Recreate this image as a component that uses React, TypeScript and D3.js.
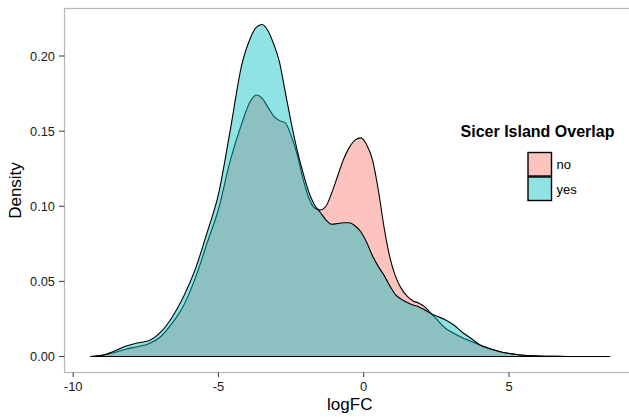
import React from "react";
import * as d3 from "d3";

// logFC grid shared by both density curves
const logFC = [
  -9.4, -9.0, -8.6, -8.2, -7.8, -7.4, -7.0, -6.6, -6.2, -5.8, -5.4, -5.0, -4.6,
  -4.2, -3.9, -3.7, -3.5, -3.3, -3.1, -2.9, -2.7, -2.5, -2.3, -2.1, -1.9, -1.7,
  -1.5, -1.3, -1.1, -0.9, -0.7, -0.5, -0.3, -0.1, 0.1, 0.3, 0.5, 0.7, 0.9, 1.1,
  1.3, 1.5, 1.7, 1.9, 2.1, 2.3, 2.5, 2.8, 3.1, 3.4, 3.7, 4.0, 4.4, 4.8, 5.2,
  5.6, 6.0, 6.5, 7.0, 7.5, 8.0, 8.47,
];

const densityNo = [
  0.0, 0.0008, 0.0025, 0.0048, 0.0065, 0.0085, 0.013, 0.022, 0.034, 0.052,
  0.075, 0.098, 0.13, 0.155, 0.17, 0.174, 0.172, 0.166, 0.16, 0.157, 0.1555,
  0.147, 0.135, 0.119, 0.106, 0.099, 0.0975, 0.1, 0.109, 0.12, 0.131, 0.139,
  0.144, 0.1455, 0.141, 0.131, 0.111, 0.086, 0.066, 0.053, 0.045, 0.04, 0.037,
  0.0355, 0.033, 0.029, 0.025, 0.019, 0.0155, 0.0125, 0.01, 0.0077, 0.0048,
  0.0027, 0.0015, 0.0007, 0.0003, 0.0001, 0.00005, 0.00002, 0.00001, 0.0,
];

const densityYes = [
  0.0, 0.0008, 0.0035, 0.0068, 0.009, 0.0105, 0.016, 0.026, 0.04, 0.058,
  0.082, 0.108, 0.15, 0.194, 0.212, 0.219, 0.221, 0.217, 0.208, 0.196, 0.176,
  0.156, 0.138, 0.123, 0.11, 0.101, 0.096, 0.091, 0.088, 0.0885, 0.089, 0.089,
  0.087, 0.083, 0.076, 0.067, 0.06, 0.054, 0.047, 0.041, 0.038, 0.036, 0.0343,
  0.033, 0.031, 0.0288, 0.027, 0.0245, 0.021, 0.016, 0.012, 0.0077, 0.0048,
  0.0027, 0.0015, 0.0007, 0.0003, 0.0001, 0.00005, 0.00002, 0.00001, 0.0,
];

const xTicks = [-10, -5, 0, 5];
const yTicks = [0, 0.05, 0.1, 0.15, 0.2];
const groups = ["no", "yes"];
const colors = ["#F8766D", "#00BFC4"];

const W = 629;
const H = 417;
const font = "Liberation Sans, Arial, Helvetica, sans-serif";

export default function App() {
  const x = d3.scaleLinear().domain([-10, 5]).range([73.2, 509]);
  const y = d3.scaleLinear().domain([0, 0.2]).range([356.5, 56]);

  const area = d3
    .area<[number, number]>()
    .x((d) => x(d[0]))
    .y0(y(0))
    .y1((d) => y(d[1]))
    .curve(d3.curveMonotoneX);

  const series = [densityNo, densityYes].map((ys) =>
    logFC.map((v, i) => [v, ys[i]] as [number, number])
  );

  // panel runs past the right edge of the picture (cropped)
  const panel = { left: 64.5, top: 8.5, right: 635, bottom: 372.5 };
  const panelMidX = (panel.left + panel.right) / 2;
  const panelMidY = (panel.top + panel.bottom) / 2;

  return (
    <svg
      width={W}
      height={H}
      style={{ position: "absolute", left: 0, top: 0, background: "#fff" }}
      fontFamily={font}
    >
      <rect x={0} y={0} width={W} height={H} fill="#fff" />
      {/* panel border */}
      <rect
        x={panel.left}
        y={panel.top}
        width={panel.right - panel.left}
        height={panel.bottom - panel.top}
        fill="none"
        stroke="#b8b8b8"
        strokeWidth={1.2}
      />

      {/* densities */}
      {series.map((s, i) => (
        <path
          key={groups[i]}
          d={area(s) + "Z"}
          fill={colors[i]}
          fillOpacity={0.44}
          stroke="#000"
          strokeWidth={1.1}
          strokeLinejoin="round"
        />
      ))}

      {/* y axis */}
      {yTicks.map((t) => (
        <g key={t}>
          <line
            x1={59}
            x2={panel.left}
            y1={y(t)}
            y2={y(t)}
            stroke="#333"
            strokeWidth={1}
          />
          <text
            x={55}
            y={y(t)}
            dy="0.36em"
            textAnchor="end"
            fontSize={12.8}
            fill="#1a1a1a"
          >
            {d3.format(".2f")(t)}
          </text>
        </g>
      ))}

      {/* x axis */}
      {xTicks.map((t) => (
        <g key={t}>
          <line
            x1={x(t)}
            x2={x(t)}
            y1={panel.bottom}
            y2={panel.bottom + 4.5}
            stroke="#333"
            strokeWidth={1}
          />
          <text
            x={x(t)}
            y={391}
            textAnchor="middle"
            fontSize={13}
            fill="#1a1a1a"
          >
            {t}
          </text>
        </g>
      ))}

      <text x={panelMidX} y={410} textAnchor="middle" fontSize={17}>
        logFC
      </text>
      <text
        transform={`translate(21,${panelMidY}) rotate(-90)`}
        textAnchor="middle"
        fontSize={17}
      >
        Density
      </text>

      {/* legend */}
      <text
        x={537.5}
        y={137}
        textAnchor="middle"
        fontSize={16}
        fontWeight="bold"
      >
        Sicer Island Overlap
      </text>
      {groups.map((g, i) => (
        <g key={g} transform={`translate(528,${152.5 + i * 24.5})`}>
          <rect
            width={23.5}
            height={23.5}
            fill={colors[i]}
            fillOpacity={0.44}
            stroke="#000"
            strokeWidth={1.4}
          />
          <text x={28.5} y={12} dy="0.36em" fontSize={13}>
            {g}
          </text>
        </g>
      ))}
    </svg>
  );
}
